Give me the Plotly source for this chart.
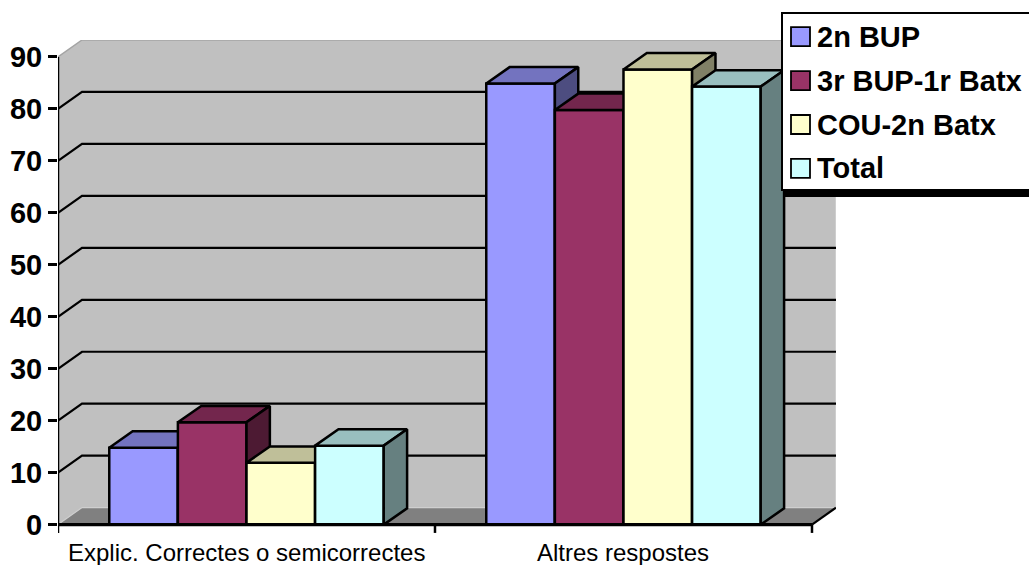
import plotly.graph_objects as go

# ---- data -------------------------------------------------------------
categories = ["Explic. Correctes o semicorrectes", "Altres respostes"]
series_names = ["2n BUP", "3r BUP-1r Batx", "COU-2n Batx", "Total"]
values_2n_bup = [14.8, 84.9]
values_3r_bup_1r_batx = [19.7, 79.8]
values_cou_2n_batx = [11.9, 87.6]
values_total = [15.2, 84.3]
y_tick_values = [0, 10, 20, 30, 40, 50, 60, 70, 80, 90]
gridline_values = [10, 20, 30, 40, 50, 60, 70, 80]

series_values = [values_2n_bup, values_3r_bup_1r_batx, values_cou_2n_batx, values_total]

# front / top / side shades for each series
front_colors = ["#9999FF", "#993366", "#FFFFCC", "#CCFFFF"]
top_colors = ["#7373BF", "#73264D", "#BFBF99", "#99BFBF"]
side_colors = ["#4D4D80", "#4D1A33", "#808066", "#668080"]

# ---- geometry (data units) ------------------------------------------
W, H = 1029, 565
ML, MR, MT, MB = 58, 193, 40, 30
Y_MAX = 90
WALL_DX, WALL_DY = 0.0637, 3.27      # depth of the walls / floor
BAR_DX, BAR_DY = 0.062, 3.15         # depth of each column
BAR_W = 0.182
X_LO, X_HI = -0.5, 1.5

fig = go.Figure()


def poly(xs, ys, fill=None, line_color="black", line_width=2.0, closed=True):
    if closed:
        xs = list(xs) + [xs[0]]
        ys = list(ys) + [ys[0]]
    fig.add_trace(go.Scatter(
        x=xs, y=ys, mode="lines",
        fill="toself" if fill else "none",
        fillcolor=fill,
        line=dict(color=line_color, width=line_width),
        hoverinfo="skip", showlegend=False, cliponaxis=False,
    ))


# back + side wall
poly([X_LO, X_LO, X_LO + WALL_DX, X_HI + WALL_DX, X_HI + WALL_DX, X_HI],
     [0, Y_MAX, Y_MAX + WALL_DY, Y_MAX + WALL_DY, WALL_DY, 0],
     fill="#C0C0C0", line_color="rgba(0,0,0,0)", line_width=0)
# wall edges
poly([X_LO, X_LO + WALL_DX, X_HI + WALL_DX],
     [Y_MAX, Y_MAX + WALL_DY, Y_MAX + WALL_DY],
     line_color="#A4A4A4", line_width=1.5, closed=False)
poly([X_HI + WALL_DX, X_HI + WALL_DX],
     [Y_MAX + WALL_DY, WALL_DY],
     line_color="#D8D8D8", line_width=1.2, closed=False)

# floor
poly([X_LO, X_HI, X_HI + WALL_DX, X_LO + WALL_DX],
     [0, 0, WALL_DY, WALL_DY],
     fill="#808080", line_color="rgba(0,0,0,0)", line_width=0)
poly([X_LO, X_LO + WALL_DX, X_HI + WALL_DX],
     [0, WALL_DY, WALL_DY],
     line_color="#CFCFCF", line_width=1.2, closed=False)
poly([X_HI, X_HI + WALL_DX], [0, WALL_DY],
     line_color="black", line_width=2.2, closed=False)

# gridlines on the side and back walls
for v in gridline_values:
    poly([X_LO, X_LO + WALL_DX, X_HI + WALL_DX],
         [v, v + WALL_DY, v + WALL_DY],
         line_color="black", line_width=2.2, closed=False)

# 3-D columns, drawn left to right so nearer faces overlap correctly
for c in range(len(categories)):
    for s, vals in enumerate(series_values):
        h = vals[c]
        x0 = c + (s - 2) * BAR_W
        x1 = x0 + BAR_W
        poly([x0, x1, x1, x0], [0, 0, h, h], fill=front_colors[s], line_width=2.5)
        poly([x0, x1, x1 + BAR_DX, x0 + BAR_DX], [h, h, h + BAR_DY, h + BAR_DY],
             fill=top_colors[s], line_width=2.5)
        poly([x1, x1 + BAR_DX, x1 + BAR_DX, x1], [0, BAR_DY, h + BAR_DY, h],
             fill=side_colors[s], line_width=2.5)

# front axis lines and category tick marks
poly([X_LO, X_LO], [0, Y_MAX], line_color="black", line_width=2.5, closed=False)
poly([X_LO, X_HI], [0, 0], line_color="black", line_width=3.2, closed=False)
for xt in [X_LO, 0.5, X_HI]:
    poly([xt, xt], [0, -1.6], line_color="black", line_width=2.5, closed=False)

# ---- layout -----------------------------------------------------------
plot_w = W - ML - MR
plot_h = H - MT - MB


def px(p):
    return (p - ML) / plot_w


def py(p):
    return (H - MB - p) / plot_h


shapes = []
annotations = []

# category labels
for c, label in enumerate(categories):
    annotations.append(dict(
        x=c, y=py(552), xref="x", yref="paper", text=label, showarrow=False,
        xanchor="center", yanchor="middle",
        font=dict(family="Liberation Sans, Arial, sans-serif", size=24, color="black"),
    ))

# legend box with drop shadow
shapes.append(dict(type="rect", xref="paper", yref="paper",
                   x0=px(785), x1=px(1045), y0=py(197), y1=py(20),
                   fillcolor="black", line=dict(width=0), layer="above"))
shapes.append(dict(type="rect", xref="paper", yref="paper",
                   x0=px(782), x1=px(1045), y0=py(190), y1=py(13),
                   fillcolor="white", line=dict(color="black", width=2), layer="above"))
item_centers = [36.7, 80.6, 124.5, 168.4]
for s, name in enumerate(series_names):
    cy = item_centers[s]
    shapes.append(dict(type="rect", xref="paper", yref="paper",
                       x0=px(791), x1=px(810), y0=py(cy + 9.5), y1=py(cy - 9.5),
                       fillcolor=front_colors[s], line=dict(color="black", width=1.8),
                       layer="above"))
    annotations.append(dict(
        x=px(815), y=py(cy), xref="paper", yref="paper", text=name, showarrow=False,
        xanchor="left", yanchor="middle",
        font=dict(family="Liberation Sans, Arial, sans-serif", size=29, color="black",
                  weight="bold"),
    ))

fig.update_layout(
    width=W, height=H,
    margin=dict(l=ML, r=MR, t=MT, b=MB, pad=0, autoexpand=False),
    paper_bgcolor="white", plot_bgcolor="white",
    showlegend=False,
    xaxis=dict(range=[X_LO, X_HI + WALL_DX], visible=False, fixedrange=True,
               automargin=False),
    yaxis=dict(
        range=[-2, Y_MAX + WALL_DY],
        tickvals=y_tick_values,
        ticks="outside", ticklen=9, tickwidth=2.5, tickcolor="black",
        showgrid=False, zeroline=False, showline=False, automargin=False,
        tickfont=dict(family="Liberation Sans, Arial, sans-serif", size=29,
                      color="black", weight="bold"),
        fixedrange=True,
    ),
    shapes=shapes,
    annotations=annotations,
)

fig.write_html("out.html")
